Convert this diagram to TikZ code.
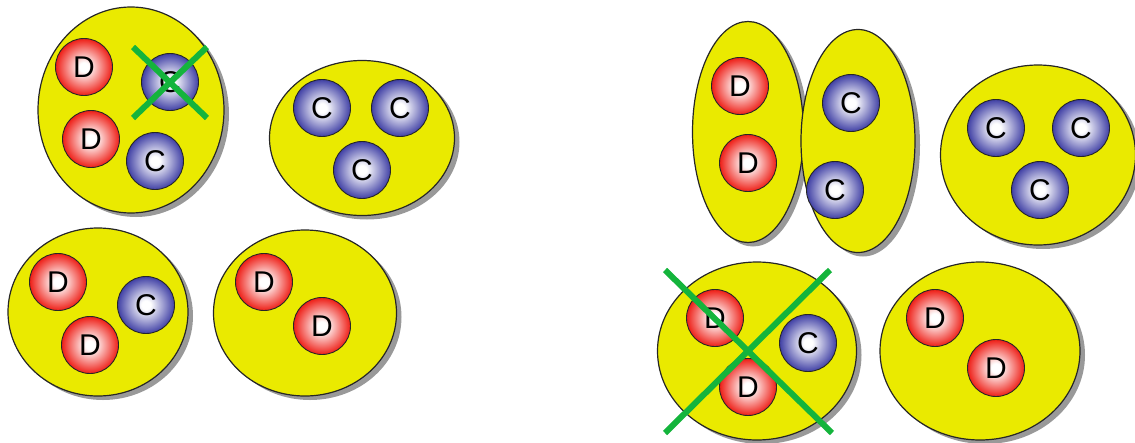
\documentclass[tikz,border=0pt]{standalone}
\usepackage{fontspec}
\setmainfont{Liberation Sans}
\usepackage{xcolor}
\usetikzlibrary{shapes, shadows}
\definecolor{blobyellow}{RGB}{234,234,0}
\definecolor{dred}{RGB}{238,30,22}
\definecolor{cblue}{RGB}{64,64,165}
\definecolor{crossgreen}{RGB}{20,180,60}
\pgfdeclareradialshading{dshade}{\pgfpoint{0bp}{0bp}}{color(0bp)=(white); color(4bp)=(white); color(25bp)=(dred); color(50bp)=(dred)}
\pgfdeclareradialshading{cshade}{\pgfpoint{0bp}{0bp}}{color(0bp)=(white); color(4bp)=(white); color(25bp)=(cblue); color(50bp)=(cblue)}
\tikzstyle{blob} = [draw=black!85, ellipse, fill=blobyellow, line width=1.2pt, inner sep=0pt, drop shadow={shadow xshift=5pt, shadow yshift=-4pt, opacity=0.4, fill=black}]
\tikzstyle{ball} = [circle, draw=black!85, line width=0.9pt, minimum size=57pt, inner sep=0pt, font=\fontsize{30}{30}\selectfont]
\tikzstyle{dball} = [ball, shading=dshade]
\tikzstyle{cball} = [ball, shading=cshade]
\tikzstyle{cross} = [draw=crossgreen, line width=6pt]

\begin{document}
\begin{tikzpicture}[x=1pt, y=-1pt]
        \useasboundingbox (0,0) rectangle (1135,442);

        % links oben
        \node [blob, minimum width=186pt, minimum height=206pt] (g1) at (131,110) {};
        \node [dball] (g1d1) at (84,67) {D};
        \node [dball] (g1d2) at (91,139) {D};
        \node [cball] (g1c1) at (170,82) {C};
        \node [cball] (g1c2) at (155,161) {C};
        \draw [cross] (133,47) -- (207,118);
        \draw [cross] (207,47) -- (133,118);

        \node [blob, minimum width=185pt, minimum height=155pt] (g2) at (362,138) {};
        \node [cball] (g2c1) at (322,108) {C};
        \node [cball] (g2c2) at (400,108) {C};
        \node [cball] (g2c3) at (362,170) {C};

        % links unten
        \node [blob, minimum width=180pt, minimum height=168pt] (g3) at (98,312) {};
        \node [dball] (g3d1) at (58,282) {D};
        \node [dball] (g3d2) at (90,345) {D};
        \node [cball] (g3c1) at (146,305) {C};

        \node [blob, minimum width=183pt, minimum height=166pt] (g4) at (305,313) {};
        \node [dball] (g4d1) at (264,282) {D};
        \node [dball] (g4d2) at (322,326) {D};

        % rechts oben
        \node [blob, minimum width=111pt, minimum height=221pt] (g5) at (748,132) {};
        \node [dball] (g5d1) at (740,86) {D};
        \node [dball] (g5d2) at (748,163) {D};

        \node [blob, minimum width=114pt, minimum height=223pt] (g6) at (858,141) {};
        \node [cball] (g6c1) at (851,103) {C};
        \node [cball] (g6c2) at (835,190) {C};

        \node [blob, minimum width=195pt, minimum height=180pt] (g7) at (1038,155) {};
        \node [cball] (g7c1) at (996,128) {C};
        \node [cball] (g7c2) at (1081,128) {C};
        \node [cball] (g7c3) at (1040,190) {C};

        % rechts unten
        \node [blob, minimum width=199pt, minimum height=178pt] (g8) at (757,351) {};
        \node [dball] (g8d1) at (715,318) {D};
        \node [cball] (g8c1) at (808,343) {C};
        \node [dball] (g8d2) at (748,387) {D};
        \draw [cross] (665,270) -- (832,433);
        \draw [cross] (830,270) -- (665,433);

        \node [blob, minimum width=200pt, minimum height=178pt] (g9) at (980,351) {};
        \node [dball] (g9d1) at (935,318) {D};
        \node [dball] (g9d2) at (996,368) {D};
    \end{tikzpicture}
\end{document}
